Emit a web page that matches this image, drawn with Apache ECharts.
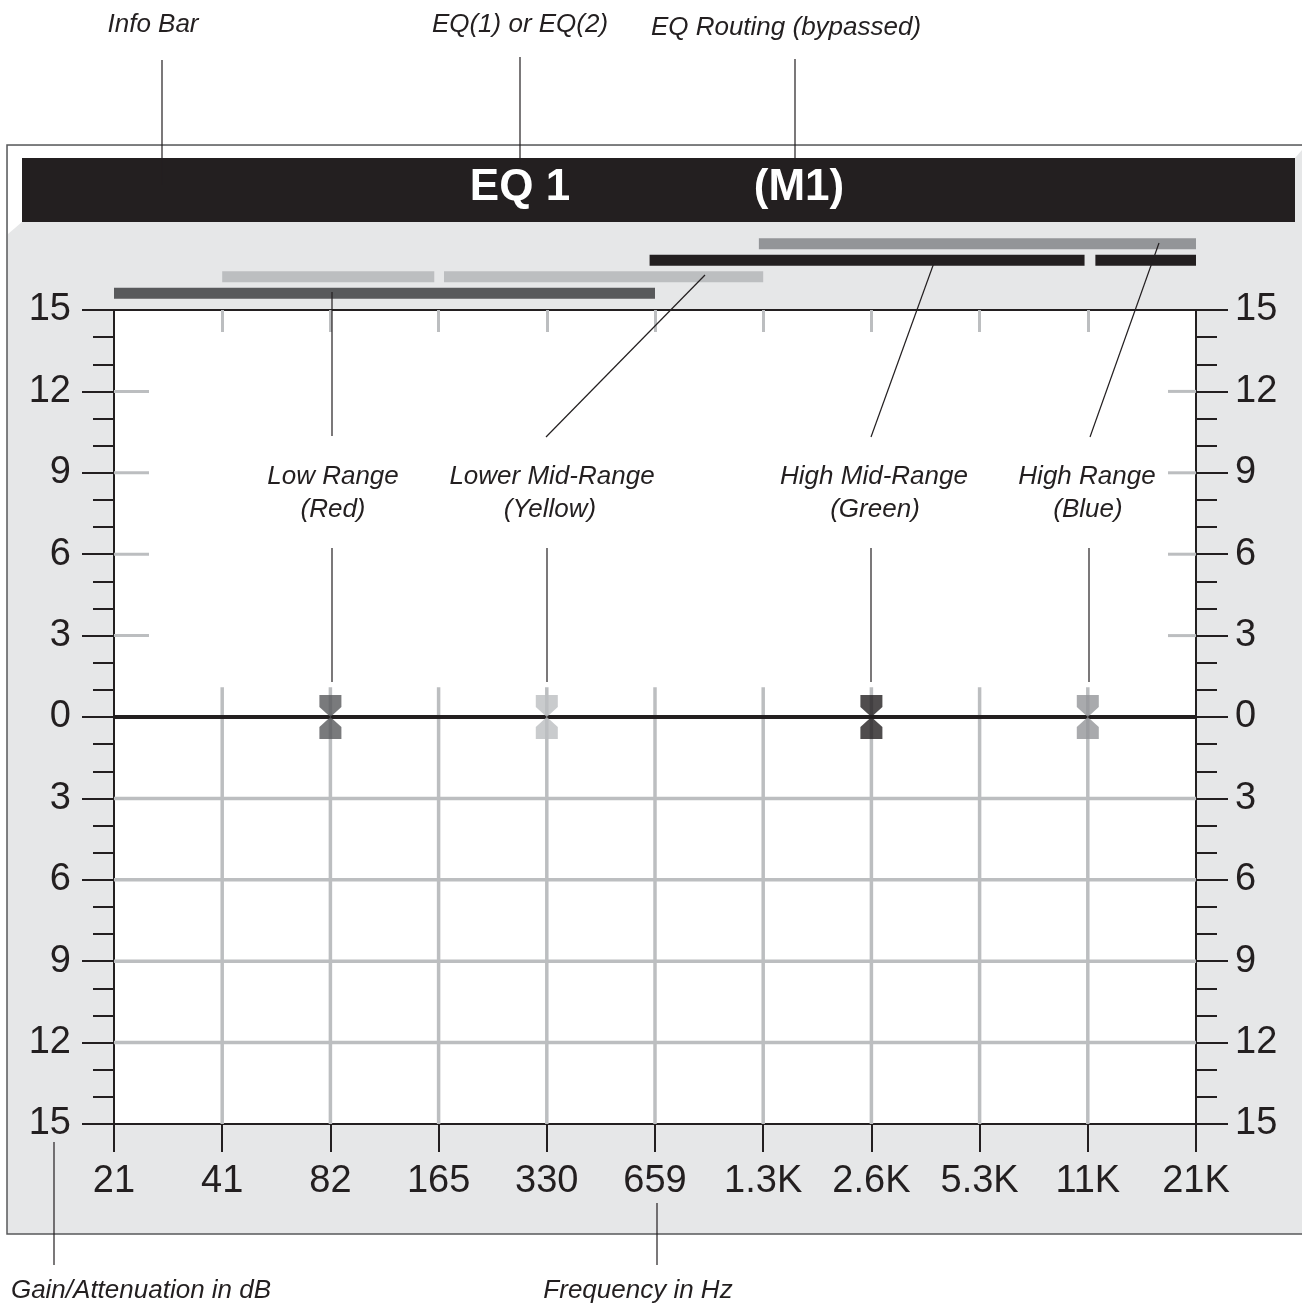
<!DOCTYPE html>
<html>
<head>
<meta charset="utf-8">
<script src="https://cdn.jsdelivr.net/npm/echarts@6/dist/echarts.min.js"></script>
<style>
html,body{margin:0;padding:0;background:#fff;}
#chart{width:1302px;height:1310px;}
</style>
</head>
<body>
<div id="chart"></div>
<script>
// ---------- data ----------
const freqLabels = ['21', '41', '82', '165', '330', '659', '1.3K', '2.6K', '5.3K', '11K', '21K'];
const gainMin = -15;
const gainMax = 15;
const gainStep = 3;
const innerTickGains = [3, 6, 9, 12];
const lowerGridGains = [-3, -6, -9, -12];
const gridFreqIdx = [1, 2, 3, 4, 5, 6, 7, 8, 9];
const gridTopGain = 1.1;
const zeroGain = 0;

// band rows, top to bottom
const bandRows = ['High Range', 'High Mid-Range', 'Lower Mid-Range', 'Low Range'];
const highRangeSpans = [[5.96, 10]];
const highMidSpans = [[4.95, 8.97], [9.07, 10]];
const lowerMidSpans = [[1, 2.96], [3.05, 6]];
const lowRangeSpans = [[0, 5]];

const markerNames = ['Low Range', 'Lower Mid-Range', 'High Mid-Range', 'High Range'];
const markerFreqIdx = [2, 4, 7, 9];
const markerGain = [0, 0, 0, 0];

const infoBarTexts = ['EQ 1', '(M1)'];

// ---------- styles ----------
const INK = '#231f20';
const GRID_GRAY = '#bcbec0';
const bandColors = { 'High Range': '#939598', 'High Mid-Range': '#231f20', 'Lower Mid-Range': '#bcbec0', 'Low Range': '#58595b' };
const markerColors = ['#58595b', '#bcbec0', '#231f20', '#939598'];
const FONT = "'Liberation Sans', Arial, Helvetica, sans-serif";

// ---------- derived ----------
const lastIdx = freqLabels.length - 1;
const gridSegments = [];
lowerGridGains.forEach(g => gridSegments.push([0, g, lastIdx, g]));
gridFreqIdx.forEach(i => gridSegments.push([i, gridTopGain, i, gainMin]));
const zeroSegments = [[0, zeroGain, lastIdx, zeroGain]];
// inner short ticks: [side x index, gain]
const innerTicks = [];
innerTickGains.forEach(g => { innerTicks.push([0, g]); innerTicks.push([lastIdx, g]); });

const bandData = [];
[['High Range', highRangeSpans], ['High Mid-Range', highMidSpans], ['Lower Mid-Range', lowerMidSpans], ['Low Range', lowRangeSpans]]
  .forEach(([name, spans]) => spans.forEach(s => bandData.push({ value: [s[0], s[1], bandRows.indexOf(name)], name })));

const markerData = markerFreqIdx.map((x, i) => ({ name: markerNames[i], value: [x, markerGain[i]], itemStyle: { color: markerColors[i] } }));

const segRender = (color, width) => (params, api) => {
  const a = api.coord([api.value(0), api.value(1)]);
  const b = api.coord([api.value(2), api.value(3)]);
  return { type: 'line', shape: { x1: a[0], y1: a[1], x2: b[0], y2: b[1] }, style: { stroke: color, lineWidth: width } };
};

const mainY = (pos, margin, align) => ({
  type: 'value', gridIndex: 0, position: pos, min: gainMin, max: gainMax, interval: gainStep,
  axisLine: { show: true, onZero: false, lineStyle: { color: INK, width: 2 } },
  axisTick: { show: true, inside: false, length: 32, lineStyle: { color: INK, width: 2 } },
  minorTick: { show: true, splitNumber: 3, length: 21, lineStyle: { color: INK, width: 2 } },
  axisLabel: { show: true, margin: margin, fontSize: 38, fontFamily: FONT, color: INK, align: align,
    formatter: v => String(Math.abs(v)) },
  splitLine: { show: false }
});

const annText = (text, x, y) => ({
  type: 'text', z: 100, x: x, y: y,
  style: { text: text, fill: INK, font: "italic 26px 'Liberation Sans', Arial, sans-serif", textAlign: 'center', textVerticalAlign: 'middle' }
});
const annLine = (x1, y1, x2, y2) => ({
  type: 'line', z: 100, shape: { x1, y1, x2, y2 }, style: { stroke: INK, lineWidth: 1.2 }
});

const chart = echarts.init(document.getElementById('chart'), null, { renderer: 'canvas' });

chart.setOption({
  backgroundColor: '#ffffff',
  animation: false,
  grid: [
    { left: 114, right: 106, top: 310, bottom: 186, show: true, backgroundColor: '#ffffff', borderWidth: 0 },
    { left: 114, right: 106, top: 235.5, height: 66, show: false }
  ],
  xAxis: [
    {
      type: 'value', gridIndex: 0, position: 'bottom', min: 0, max: lastIdx, interval: 1,
      axisLine: { show: true, onZero: false, lineStyle: { color: INK, width: 2 } },
      axisTick: { show: true, length: 28, lineStyle: { color: INK, width: 2 } },
      axisLabel: { show: true, margin: 39, fontSize: 38, fontFamily: FONT, color: INK, formatter: v => freqLabels[v] },
      splitLine: { show: false }
    },
    {
      type: 'value', gridIndex: 0, position: 'top', min: 0, max: lastIdx, interval: 1,
      axisLine: { show: true, onZero: false, lineStyle: { color: INK, width: 2 } },
      axisTick: { show: true, inside: true, length: 22, customValues: gridFreqIdx, lineStyle: { color: GRID_GRAY, width: 3 } },
      axisLabel: { show: false },
      splitLine: { show: false }
    },
    { type: 'value', gridIndex: 1, min: 0, max: lastIdx, show: false }
  ],
  yAxis: [
    mainY('left', 43, 'right'),
    mainY('right', 39, 'left'),
    { type: 'category', gridIndex: 1, data: bandRows, inverse: true, show: false }
  ],
  graphic: [
    // panel
    { type: 'rect', z: -10, shape: { x: 7, y: 145, width: 1310, height: 1089 }, style: { fill: '#e6e7e8', stroke: '#58595b', lineWidth: 1.5 } },
    { type: 'polygon', z: -9, shape: { points: [[8, 146], [1302, 146], [1302, 150], [1295, 158], [22, 158], [22, 222], [8, 234]] }, style: { fill: '#ffffff' } },
    // info bar
    { type: 'rect', z: -8, shape: { x: 22, y: 158, width: 1273, height: 64 }, style: { fill: INK } },
    { type: 'text', z: 50, x: 520, y: 188, style: { text: infoBarTexts[0], fill: '#ffffff', font: "bold 44px 'Liberation Sans', Arial, sans-serif", textAlign: 'center', textVerticalAlign: 'middle' } },
    { type: 'text', z: 50, x: 799, y: 188, style: { text: infoBarTexts[1], fill: '#ffffff', font: "bold 44px 'Liberation Sans', Arial, sans-serif", textAlign: 'center', textVerticalAlign: 'middle' } },
    // top annotations
    annText('Info Bar', 153, 25), annLine(162, 60, 162, 185),
    annText('EQ(1) or EQ(2)', 520, 25), annLine(520, 57, 520, 165),
    annText('EQ Routing (bypassed)', 786, 28), annLine(795, 59, 795, 165),
    // range annotations
    annText('Low Range', 333, 477), annText('(Red)', 333, 510),
    annLine(332, 292, 332, 436), annLine(332, 548, 332, 682),
    annText('Lower Mid-Range', 552, 477), annText('(Yellow)', 550, 510),
    annLine(705, 275, 546, 437), annLine(547, 548, 547, 682),
    annText('High Mid-Range', 874, 477), annText('(Green)', 875, 510),
    annLine(935, 260, 871, 437), annLine(871, 548, 871, 682),
    annText('High Range', 1087, 477), annText('(Blue)', 1088, 510),
    annLine(1159, 243, 1090, 437), annLine(1089, 548, 1089, 682),
    // bottom annotations
    annText('Gain/Attenuation in dB', 141, 1291), annLine(54, 1142, 54, 1265),
    annText('Frequency in Hz', 638, 1291), annLine(657, 1203, 657, 1265)
  ],
  series: [
    {
      type: 'custom', name: 'grid', xAxisIndex: 0, yAxisIndex: 0, silent: true, z: 1,
      encode: { x: [0, 2], y: [1, 3] }, data: gridSegments, renderItem: segRender(GRID_GRAY, 3.5)
    },
    {
      type: 'custom', name: 'innerTicks', xAxisIndex: 0, yAxisIndex: 0, silent: true, z: 1,
      encode: { x: 0, y: 1 }, data: innerTicks,
      renderItem: (params, api) => {
        const p = api.coord([api.value(0), api.value(1)]);
        const isLeft = api.value(0) === 0;
        const len = isLeft ? 35 : -28;
        return { type: 'line', shape: { x1: p[0], y1: p[1], x2: p[0] + len, y2: p[1] }, style: { stroke: GRID_GRAY, lineWidth: 3 } };
      }
    },
    {
      type: 'custom', name: 'zero', xAxisIndex: 0, yAxisIndex: 0, silent: true, z: 2,
      encode: { x: [0, 2], y: [1, 3] }, data: zeroSegments, renderItem: segRender(INK, 4)
    },
    {
      type: 'custom', name: 'bands', xAxisIndex: 2, yAxisIndex: 2, silent: true, z: 2,
      encode: { x: [0, 1], y: 2 }, data: bandData,
      renderItem: (params, api) => {
        const a = api.coord([api.value(0), api.value(2)]);
        const b = api.coord([api.value(1), api.value(2)]);
        const name = bandRows[api.value(2)];
        return { type: 'rect', shape: { x: a[0], y: a[1] - 5.5, width: b[0] - a[0], height: 11 }, style: { fill: bandColors[name] } };
      }
    },
    {
      type: 'scatter', name: 'markers', xAxisIndex: 0, yAxisIndex: 0, z: 5, silent: true,
      symbol: 'path://M0,0 L22,0 L22,12 L11,22 L22,32 L22,44 L0,44 L0,32 L11,22 L0,12 Z',
      symbolSize: [22, 44], data: markerData
    }
  ]
});
</script>
</body>
</html>
